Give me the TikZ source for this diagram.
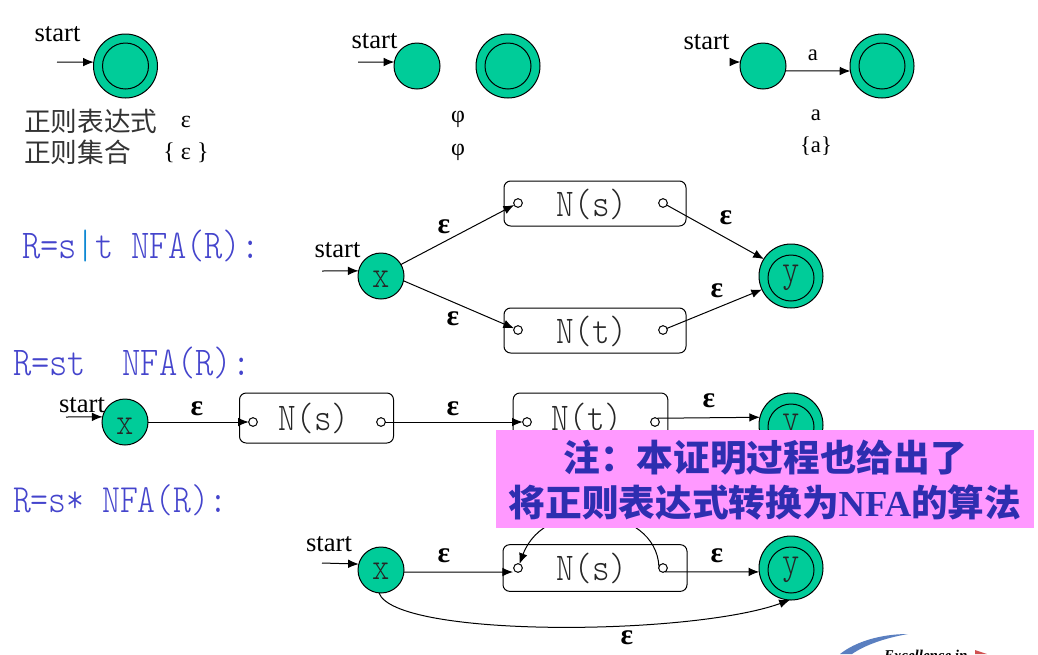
\documentclass[tikz,border=0pt]{standalone}
\usepackage{fontspec}
\setmainfont{Liberation Serif}
\newfontfamily\cjk{Noto Sans CJK SC}
\newfontfamily\mononame[FakeStretch=0.85]{Latin Modern Mono Light}
\usetikzlibrary{arrows.meta}
\definecolor{stategreen}{HTML}{00CC99}
\definecolor{formulablue}{HTML}{4444CC}
\definecolor{notepink}{HTML}{FF99FF}
\definecolor{notetext}{HTML}{2E2EB0}
\definecolor{logoblue}{HTML}{5A7FC0}
\definecolor{logored}{HTML}{D05050}
\tikzset{
  x=0.75pt,y=-0.75pt,
  every node/.style={inner sep=0pt,outer sep=0pt},
  edge/.style={line width=0.75pt,-{Latex[length=8pt,width=6.5pt]}},
  st/.style={circle,draw,line width=0.75pt,fill=stategreen,minimum size=34.5pt},
  acc/.style={circle,draw,line width=0.75pt,fill=stategreen,minimum size=48pt},
  inn/.style={circle,draw,line width=0.75pt,minimum size=34.5pt},
  letter/.style={font=\mononame\fontsize{29}{29}\selectfont,text=black!85},
  box/.style={draw,line width=0.75pt,rounded corners=5pt},
  port/.style={circle,draw,line width=0.75pt,fill=white,minimum size=6.5pt},
  startlbl/.style={font=\fontsize{20}{22}\selectfont},
  cn/.style={font=\cjk\fontsize{20}{22}\selectfont,anchor=west,text=black!80},
  grk/.style={font=\fontsize{18}{20}\selectfont},
  small/.style={font=\fontsize{17}{20}\selectfont},
  eps/.style={font=\bfseries\fontsize{22}{22}\selectfont},
  formula/.style={font=\mononame\fontsize{30.7}{31}\selectfont,text=formulablue,anchor=west},
  boxname/.style={font=\mononame\fontsize{29.5}{30}\selectfont,text=black!85}
}
\begin{document}
\begin{tikzpicture}
\useasboundingbox (0,0) rectangle (1038,654);
\clip (0,0) rectangle (1038,654);
% row 1
\node[startlbl] (s1) at (57.5,34) {start};
\coordinate (a1) at (57,62);
\node[acc] (f1) at (125.5,66) {};
\node[inn] (f1i) at (125.5,66) {};
\draw[edge] (a1) -- (f1.173);

\node[startlbl] (s2) at (374.5,41) {start};
\coordinate (a2) at (358,62);
\node[st] (p2) at (417,66) {};
\node[acc] (f2) at (508,66) {};
\node[inn] (f2i) at (508,66) {};
\draw[edge] (a2) -- (p2.170);

\node[startlbl] (s3) at (706.5,42) {start};
\coordinate (a3) at (732,62);
\node[st] (p3) at (763,66) {};
\node[acc] (f3) at (882,66) {};
\node[inn] (f3i) at (882,66) {};
\draw[edge] (a3) -- (p3.170);
\draw[edge] (p3.-12) -- (f3.189);
\node[small] (la) at (813,55.5) {a};

\node[cn] (c1) at (24,121) {正则表达式};
\node[cn] (c2) at (24,152) {正则集合};
\node[grk] (e1) at (186,122) {ε};
\node[grk] (e2) at (186,153) {\{ ε \}};
\node[grk] (ph1) at (458,119) {φ};
\node[grk] (ph2) at (458,152) {φ};
\node[small] (la2) at (816,115) {a};
\node[small] (la3) at (816,146) {\{a\}};

% union
\node[formula] (r1) at (22,246) {R=s\textcolor{cyan!70!blue}{|}t NFA(R):};
\node[startlbl] (s4) at (337.5,250) {start};
\coordinate (a4) at (322,271);
\node[st] (x1) at (381,276) {};
\node[letter] (x1t) at (381,279) {x};
\node[acc] (y1) at (791,276) {};
\node[inn,letter] (y1i) at (791,278) {y};
\node[box,minimum width=136.5pt,minimum height=33.75pt] (b1) at (595,203.5) {};
\node[box,minimum width=136.5pt,minimum height=33.75pt] (b2) at (595,330.5) {};
\node[boxname] (b1t) at (592,204) {N(s)};
\node[boxname] (b2t) at (592,331) {N(t)};
\node[port] (p11) at (518,203) {};
\node[port] (p12) at (663,203) {};
\node[port] (p21) at (518,330) {};
\node[port] (p22) at (663,330) {};
\draw[edge] (a4) -- (x1.167);
\draw[edge] (x1.30) -- (p11);
\draw[edge] (x1.-12) -- (p21);
\draw[edge] (p12) -- (y1.148);
\draw[edge] (p22) -- (y1.205);
\node[eps] (e3) at (444,227) {ε};
\node[eps] (e4) at (453,319) {ε};
\node[eps] (e5) at (726,218) {ε};
\node[eps] (e6) at (717,291) {ε};

% concatenation
\node[formula] (r2) at (13,363) {R=st~~NFA(R):};
\node[startlbl] (s5) at (82,405) {start};
\coordinate (a5) at (66,417);
\node[st] (x2) at (125,422) {};
\node[letter] (x2t) at (125,426) {x};
\node[box,minimum width=115.5pt,minimum height=37.5pt] (b3) at (316.5,418) {};
\node[box,minimum width=116pt,minimum height=37.5pt] (b4) at (590.5,418) {};
\node[boxname] (b3t) at (314,418) {N(s)};
\node[boxname] (b4t) at (587,418) {N(t)};
\node[port] (p31) at (253,422) {};
\node[port] (p32) at (381,422) {};
\node[port] (p41) at (527,422) {};
\node[port] (p42) at (655,422) {};
\node[acc] (y2) at (791,425) {};
\node[inn,letter] (y2i) at (791,427) {y};
\draw[edge] (a5) -- (x2.167);
\draw[edge] (x2) -- (p31);
\draw[edge] (p32) -- (p41);
\draw[edge] (p42.60) -- (y2.166);
\node[eps] (e7) at (197,409) {ε};
\node[eps] (e8) at (453,409) {ε};
\node[eps] (e9) at (709,401) {ε};

% star
\node[formula,font=\mononame\fontsize{30}{31}\selectfont] (r3) at (13,500) {R=s* NFA(R):};
\node[startlbl] (s6) at (329,544) {start};
\coordinate (a6) at (322,563);
\node[st] (x3) at (381,570) {};
\node[letter] (x3t) at (381,571) {x};
\node[box,minimum width=138pt,minimum height=35pt] (b5) at (595,568) {};
\node[boxname] (b5t) at (592,568) {N(s)};
\node[port] (p51) at (518,568) {};
\node[port] (p52) at (663,568) {};
\coordinate (t51) at (513,572);
\node[acc] (y3) at (791,568) {};
\node[inn,letter] (y3i) at (791,570) {y};
\draw[edge] (a6) -- (x3.165);
\draw[edge] (x3.-5) -- (t51);
\draw[edge] (p52.-60) -- (y3.187);
\draw[edge] (p52.160) .. controls (656,505) and (545,495) .. (p51.70);
\draw[edge] (x3.-95) .. controls (395,638) and (690,636) .. (y3.268);
\node[eps] (e10) at (444,556) {ε};
\node[eps] (e11) at (717,556) {ε};
\node[eps] (e12) at (627,638) {ε};

% note
\node[fill=notepink,minimum width=403.5pt,minimum height=73.5pt] (note) at (765,479) {};
\node[align=center,text=notetext,font=\bfseries\fontsize{27.5}{33.75}\selectfont] (notet) at (765,480)
  {{\cjk 注：本证明过程也给出了}\\{\cjk 将正则表达式转换为}NFA{\cjk 的算法}};

% logo fragment
\fill[logoblue] (840,654) .. controls (855,642) and (880,634) .. (908,634) .. controls (885,638) and (865,645) .. (852,654) -- cycle;
\node[font=\bfseries\itshape\fontsize{11.2}{12}\selectfont,anchor=west] (logo) at (884,655) {Excellence in};
\fill[logored] (975,650) -- (987,654) -- (975,654) -- cycle;
\end{tikzpicture}
\end{document}
